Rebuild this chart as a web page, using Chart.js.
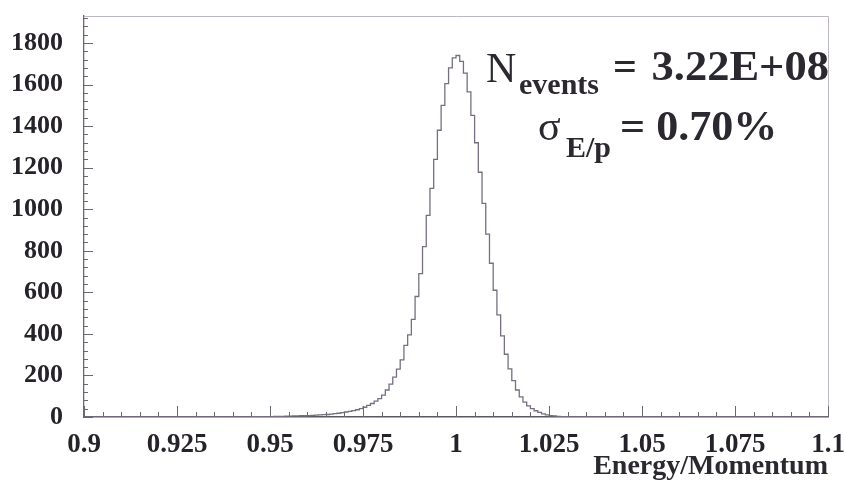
<!DOCTYPE html>
<html><head><meta charset="utf-8">
<script src="https://cdn.jsdelivr.net/npm/chart.js@4/dist/chart.umd.min.js"></script>
<style>html,body{margin:0;padding:0;background:#fff;}#wrap{width:845px;height:500px;}</style>
</head><body><div id="wrap"><canvas id="c" width="845" height="500"></canvas></div>
<script>
// ---- data ----
const binStart = 0.9;
const binWidth = 0.001;
const counts = [
  0,0,0,0,0,0,0,0,0,0,
  0,0,0,0,0,0,0,0,0,0,
  0,0,0,0,0,0,0,0,0,0,
  0,0,0,0,0,1,1,1,1,1,
  1,1,1,1,1,2,2,2,2,2,
  2,3,3,3,4,4,5,5,6,6,
  7,8,9,10,11,12,14,16,18,21,
  24,27,31,35,40,47,56,65,76,88,
  105,130,158,192,230,275,345,395,470,580,
  690,820,970,1100,1240,1380,1500,1605,1680,1728,
  1740,1712,1655,1565,1452,1320,1178,1028,880,740,
  610,492,390,302,232,175,130,97,72,54,
  40,30,22,15,10,7,5,3,2,2,
  1,1,1,0,0,0,0,0,0,0,
  0,0,0,0,0,0,0,0,0,0,
  0,0,0,0,0,0,0,0,0,0,
  0,0,0,0,0,0,0,0,0,0,
  0,0,0,0,0,0,0,0,0,0,
  0,0,0,0,0,0,0,0,0,0,
  0,0,0,0,0,0,0,0,0,0
];
const xTickValues = [0.9, 0.925, 0.95, 0.975, 1, 1.025, 1.05, 1.075, 1.1];
const xTickLabels = ['0.9','0.925','0.95','0.975','1','1.025','1.05','1.075','1.1'];
const yTickValues = [0,200,400,600,800,1000,1200,1400,1600,1800];
const yTickLabels = ['0','200','400','600','800','1000','1200','1400','1600','1800'];
const xTitle = 'Energy/Momentum';
const nEventsValue = '3.22E+08';
const sigmaValue = '0.70%';

// ---- build points (bin low edges + closing edge) ----
const points = counts.map((v, i) => ({x: binStart + i * binWidth, y: v}));
points.push({x: binStart + counts.length * binWidth, y: 0});

const SERIF = '"Liberation Serif", "Times New Roman", serif';

const innerTicks = {
  id: 'innerTicks',
  afterDatasetsDraw(chart) {
    const {ctx, chartArea: a, scales: {x, y}} = chart;
    ctx.save();
    ctx.strokeStyle = '#bdb8c2';
    ctx.lineWidth = 1;
    ctx.beginPath();
    ctx.moveTo(a.left, a.top + 0.5); ctx.lineTo(a.right + 0.5, a.top + 0.5);
    ctx.lineTo(a.right + 0.5, a.bottom);
    ctx.stroke();
    ctx.strokeStyle = '#6d6773';
    ctx.lineWidth = 1;
    for (let k = 0; k <= 40; k++) {
      const v = 0.9 + k * 0.005;
      const px = Math.round(x.getPixelForValue(v)) + 0.5;
      const len = (k % 5 === 0) ? 11 : 5;
      ctx.beginPath(); ctx.moveTo(px, a.bottom); ctx.lineTo(px, a.bottom - len); ctx.stroke();
    }
    for (let v = 0; v <= y.max; v += 40) {
      const py = Math.round(y.getPixelForValue(v)) + 0.5;
      const len = (v % 200 === 0) ? 9 : 4;
      ctx.beginPath(); ctx.moveTo(a.left, py); ctx.lineTo(a.left + len, py); ctx.stroke();
    }
    ctx.restore();
  }
};

function stretchText(ctx, text, x, y, sx, align) {
  ctx.save();
  ctx.translate(x, y);
  ctx.scale(sx, 1);
  ctx.textAlign = align;
  ctx.fillText(text, 0, 0);
  ctx.restore();
}

const annotation = {
  id: 'annotation',
  afterDraw(chart) {
    const ctx = chart.ctx;
    ctx.save();
    ctx.fillStyle = '#2b2830';
    ctx.textBaseline = 'alphabetic';
    ctx.font = '42px ' + SERIF;
    stretchText(ctx, 'N', 486, 82, 1.0, 'left');
    ctx.font = 'bold 30px ' + SERIF;
    stretchText(ctx, 'events', 519, 94, 1.0, 'left');
    ctx.font = 'bold 42px ' + SERIF;
    stretchText(ctx, '=', 613, 80, 1.0, 'left');
    stretchText(ctx, nEventsValue, 829, 80, 1.06, 'right');
    ctx.font = '42px ' + SERIF;
    stretchText(ctx, '\u03C3', 538, 140, 1.0, 'left');
    ctx.font = 'bold 30px ' + SERIF;
    stretchText(ctx, 'E/p', 566, 157, 1.0, 'left');
    ctx.font = 'bold 42px ' + SERIF;
    stretchText(ctx, '= ' + sigmaValue, 620, 140, 1.05, 'left');
    ctx.restore();
  }
};

new Chart(document.getElementById('c'), {
  type: 'line',
  data: {
    datasets: [{
      data: points,
      stepped: true,
      borderColor: '#776e82',
      borderWidth: 1.3,
      pointRadius: 0,
      fill: false,
      tension: 0
    }]
  },
  options: {
    responsive: false,
    animation: false,
    devicePixelRatio: 1,
    layout: {padding: {left: 0, right: 17, top: 16, bottom: 0}},
    plugins: {legend: {display: false}, tooltip: {enabled: false}, title: {display: false}},
    scales: {
      x: {
        type: 'linear',
        min: 0.9,
        max: 1.1,
        afterBuildTicks: s => { s.ticks = xTickValues.map(v => ({value: v})); },
        afterFit: s => { s.height = 83; s.paddingLeft = 0; s.paddingRight = 0; },
        ticks: {
          autoSkip: false, maxRotation: 0, padding: 12,
          color: '#252229',
          font: {family: SERIF, size: 27, weight: 'bold'},
          callback: (v, i) => xTickLabels[i]
        },
        grid: {display: false, drawTicks: false},
        border: {display: true, color: '#5d5763', width: 1.5},
        title: {
          display: true, text: xTitle, align: 'end', color: '#2b2830',
          font: {family: SERIF, size: 28, weight: 'bold'},
          padding: {top: 0, bottom: 16}
        }
      },
      y: {
        type: 'linear',
        min: 0,
        max: 1930,
        afterBuildTicks: s => { s.ticks = yTickValues.map(v => ({value: v})); },
        afterFit: s => { s.width = 84; s.paddingTop = 0; s.paddingBottom = 0; },
        ticks: {
          autoSkip: false, padding: 21,
          color: '#252229',
          font: {family: SERIF, size: 26, weight: 'bold'},
          callback: (v, i) => yTickLabels[i]
        },
        grid: {display: false, drawTicks: false},
        border: {display: true, color: '#6d6773', width: 1.3}
      }
    }
  },
  plugins: [innerTicks, annotation]
});
</script>
</body></html>
